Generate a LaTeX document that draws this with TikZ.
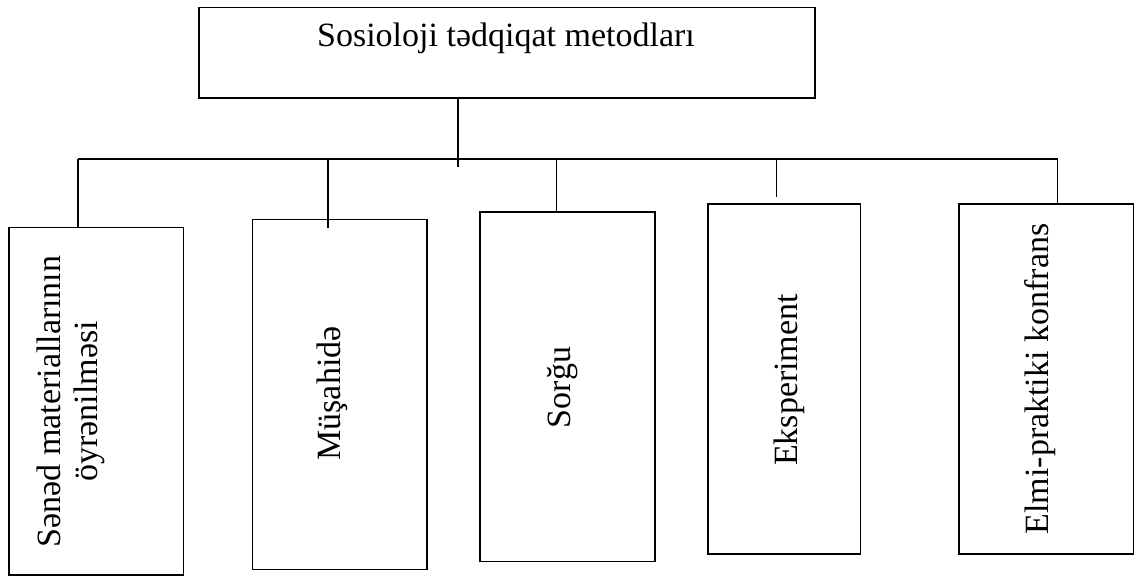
\documentclass[tikz,border=0pt]{standalone}
\usepackage{fontspec}
\setmainfont{Liberation Serif}
\begin{document}
\begin{tikzpicture}[x=1pt,y=-1pt,
  box/.style={draw=black,line width=1.8pt,rectangle,inner sep=0pt,fill=white},
  lbl/.style={inner sep=0pt,font=\fontsize{34}{37}\selectfont},
  vlbl/.style={lbl,rotate=90,anchor=base},
  conn/.style={draw=black,line width=1.8pt}]
\useasboundingbox[fill=white] (0,0) rectangle (1135,577);
% boxes
\node[box,minimum width=616pt,minimum height=90.5pt] (top) at (507,52.75) {};
\node[box,minimum width=174.5pt,minimum height=347.5pt] (b1) at (96.25,401.25) {};
\node[box,minimum width=174.5pt,minimum height=350pt] (b2) at (339.75,394.5) {};
\node[box,minimum width=175pt,minimum height=349.5pt] (b3) at (567.5,386.75) {};
\node[box,minimum width=152.5pt,minimum height=350pt] (b4) at (784.25,379) {};
\node[box,minimum width=174.5pt,minimum height=350pt] (b5) at (1046.25,379) {};
% labels
\node[lbl,anchor=base] (t0) at (506,47) {Sosioloji tədqiqat metodları};
\node[lbl,rotate=90,anchor=center,align=center] (t1) at (70.6,401.5) {Sənəd materiallarının\\öyrənilməsi};
\node[vlbl] (t2) at (340,393.5) {Müşahidə};
\node[vlbl] (t3) at (570,387.5) {Sorğu};
\node[vlbl] (t4) at (797,380) {Eksperiment};
\node[vlbl] (t5) at (1048,379) {Elmi-praktiki konfrans};
% junction coordinates
\coordinate (stem) at (458,159);
\coordinate (stemend) at (458,167);
\coordinate (j1) at (78,159);
\coordinate (j2) at (328,159);
\coordinate (j2end) at (328,228);
\coordinate (j3) at (556.5,159);
\coordinate (j4) at (776.5,159);
\coordinate (j4end) at (776.5,197);
\coordinate (j5) at (1057.5,159);
% connectors
\draw[conn] (top.south -| stem) -- (stemend);
\draw[conn] (j1) -- (j5);
\draw[conn] (j1) -- (j1 |- b1.north);
\draw[conn] (j2) -- (j2end);
\draw[conn] (j3) -- (j3 |- b3.north);
\draw[conn] (j4) -- (j4end);
\draw[conn] (j5) -- (j5 |- b5.north);
\end{tikzpicture}
\end{document}
